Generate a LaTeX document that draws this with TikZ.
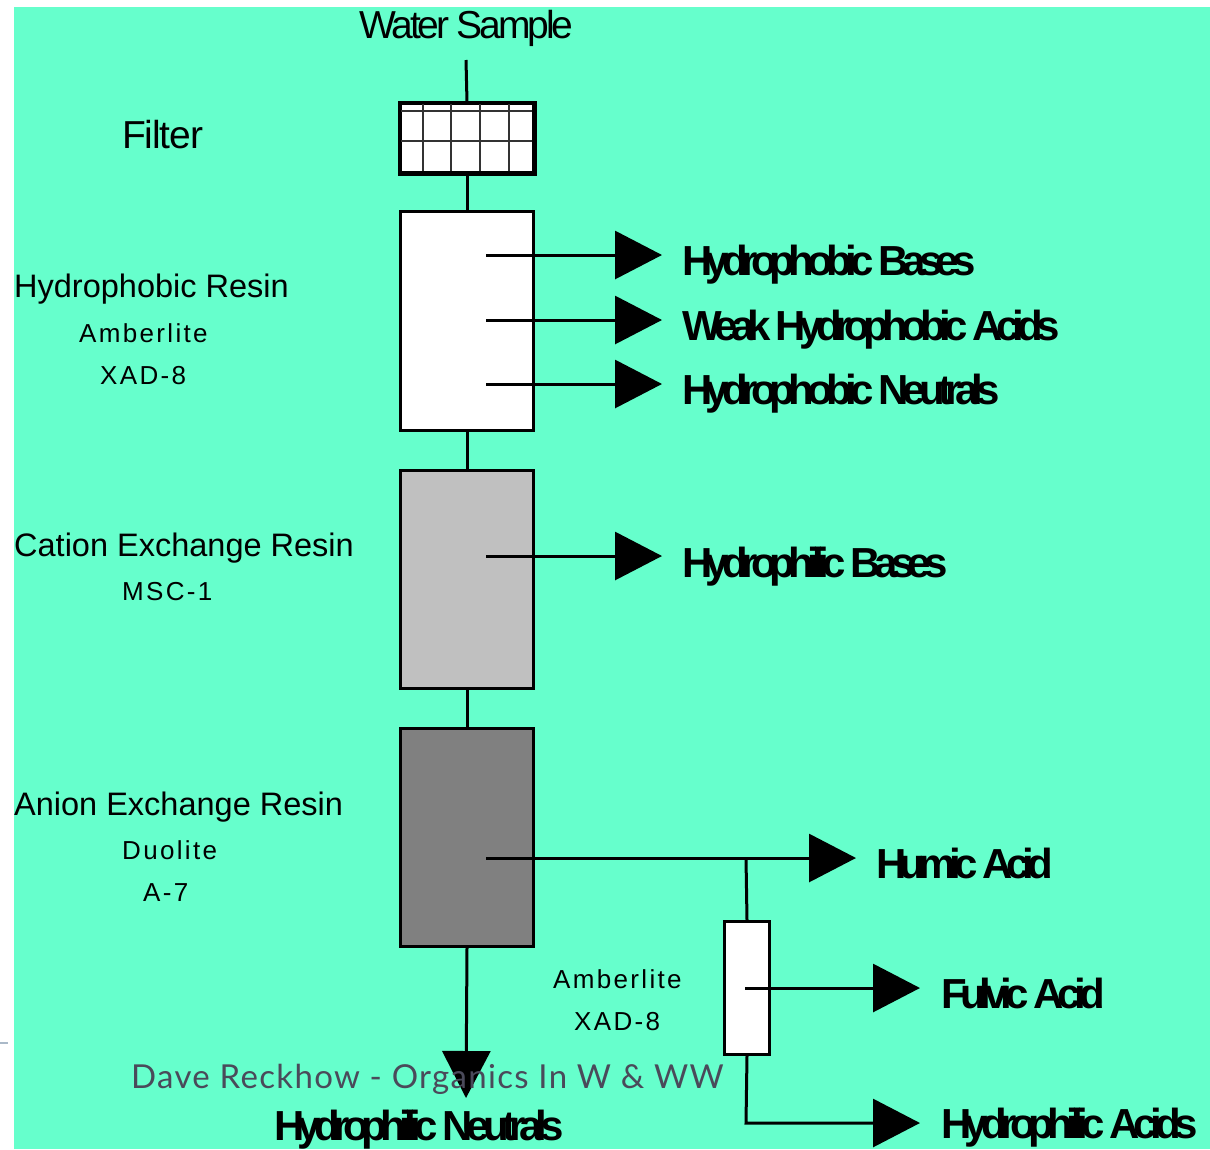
\documentclass[tikz,border=0pt]{standalone}
\usepackage{fontspec}
\setmainfont{Liberation Sans}
\newfontfamily\regfont{Liberation Sans}
\newfontfamily\tightfont[LetterSpace=-8]{Liberation Sans}
\newfontfamily\filterfont[LetterSpace=-3]{Liberation Sans}
\newfontfamily\widefont[LetterSpace=9]{Liberation Sans}
\newfontfamily\boldfont[LetterSpace=-16]{Liberation Sans Bold}
\newfontfamily\footfont[LetterSpace=4]{Lato}
\usetikzlibrary{arrows.meta}
\definecolor{mint}{RGB}{102,255,204}
\definecolor{lgray}{RGB}{192,192,192}
\definecolor{dgray}{RGB}{128,128,128}
\definecolor{footgray}{RGB}{74,74,90}
\definecolor{dashgray}{RGB}{170,185,200}
\begin{document}
\begin{tikzpicture}[x=1pt,y=-1pt,
  column/.style={draw=black,line width=3pt,inner sep=0pt,anchor=north west},
  conn/.style={line width=3pt,line cap=butt},
  flow/.style={conn,-{Triangle[length=47pt,width=48pt]}},
  gridline/.style={line width=1.6pt,black!80},
  big/.style={inner sep=0pt,anchor=base west,font=\tightfont\fontsize{39}{39}\selectfont},
  mid/.style={inner sep=0pt,anchor=base west,font=\regfont\fontsize{32.5}{32.5}\selectfont},
  small/.style={inner sep=0pt,anchor=base west,font=\widefont\fontsize{26}{26}\selectfont},
  blab/.style={inner sep=0pt,anchor=base west,font=\boldfont\fontsize{42}{42}\selectfont}
]
\useasboundingbox (0,0) rectangle (1210,1149);
\fill[white] (0,0) rectangle (1210,1149);
\fill[mint] (14,7) rectangle (1210,1149);
\draw[dashgray,line width=2pt] (0,1043) -- (8,1043);

% column elements
\node[column,fill=white,minimum width=133pt,minimum height=69pt] (filter) at (399,102) {};
\node[column,fill=white,minimum width=133pt,minimum height=219pt] (hpr) at (399,210) {};
\node[column,fill=lgray,minimum width=133pt,minimum height=218pt] (cat) at (399,469) {};
\node[column,fill=dgray,minimum width=133pt,minimum height=218pt] (ani) at (399,727) {};
\node[column,fill=white,minimum width=45pt,minimum height=133pt] (xad) at (723,920) {};

% filter grid
\draw[gridline] (filter.north west) ++(0,9) -- ++(133,0);
\draw[gridline] (filter.north west) ++(0,39) -- ++(133,0);
\foreach \gx in {24,52,81,110} \draw[gridline] (filter.north west) ++(\gx,0) -- ++(0,69);
\draw[line width=3pt] (filter.north west) rectangle (filter.south east);

% top inlet
\coordinate (inlet) at (466,60);
\draw[conn] (inlet) -- (filter.north);
\draw[conn] (filter.south) -- (hpr.north);
\draw[conn] (hpr.south) -- (cat.north);
\draw[conn] (cat.south) -- (ani.north);

% output coordinates
\coordinate (o1s) at (486,255); \coordinate (o1e) at (662,255);
\coordinate (o2s) at (486,320); \coordinate (o2e) at (662,320);
\coordinate (o3s) at (486,384); \coordinate (o3e) at (662,384);
\coordinate (o4s) at (486,556); \coordinate (o4e) at (662,556);
\coordinate (o5s) at (486,858); \coordinate (o5e) at (856,858);
\coordinate (br) at (746,858);
\coordinate (o6s) at (745,988); \coordinate (o6e) at (920,988);
\coordinate (o7c) at (746,1123); \coordinate (o7e) at (920,1123);
\coordinate (o8e) at (466,1098);

\draw[flow] (o1s) -- (o1e);
\draw[flow] (o2s) -- (o2e);
\draw[flow] (o3s) -- (o3e);
\draw[flow] (o4s) -- (o4e);
\draw[flow] (o5s) -- (o5e);
\draw[conn] (br) -- (xad.north);
\draw[flow] (o6s) -- (o6e);
\draw[flow] (xad.south) -- (o7c) -- (o7e);
\draw[flow] (ani.south) -- (o8e);

% labels
\node[big] (ws) at (359,38) {Water Sample};
\node[big,font=\filterfont\fontsize{39}{39}\selectfont] (fl) at (122,148) {Filter};
\node[mid] (l1) at (14,297) {Hydrophobic Resin};
\node[small] (l1a) at (79,342) {Amberlite};
\node[small] (l1b) at (100,384) {XAD-8};
\node[mid] (l2) at (14,556) {Cation Exchange Resin};
\node[small] (l2a) at (122,600) {MSC-1};
\node[mid] (l3) at (14,815) {Anion Exchange Resin};
\node[small] (l3a) at (122,859) {Duolite};
\node[small] (l3b) at (143,901) {A-7};
\node[small] (l4a) at (553,988) {Amberlite};
\node[small] (l4b) at (574,1030) {XAD-8};

\node[blab] (b1) at (682,275) {Hydrophobic Bases};
\node[blab] (b2) at (682,340) {Weak Hydrophobic Acids};
\node[blab] (b3) at (682,404) {Hydrophobic Neutrals};
\node[blab] (b4) at (682,577) {Hydrophilic Bases};
\node[blab] (b5) at (876,878) {Humic Acid};
\node[blab] (b6) at (941,1008) {Fulvic Acid};
\node[blab] (b7) at (941,1138) {Hydrophilic Acids};
\node[blab] (b8) at (274,1140) {Hydrophilic Neutrals};

\node[inner sep=0pt,anchor=base west,text=footgray,font=\footfont\fontsize{33}{33}\selectfont] (foot) at (131,1088) {Dave Reckhow - Organics In W \& WW};
\end{tikzpicture}
\end{document}
